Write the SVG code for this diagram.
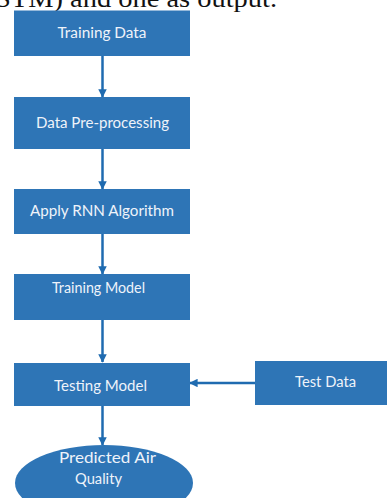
<svg xmlns="http://www.w3.org/2000/svg" width="388" height="498" viewBox="0 0 388 498">
  <defs>
    <style>
      .box { fill: #2e75b6; }
      .lbl { fill: #eef3fa; font-family: Lato, "Open Sans", "Liberation Sans", sans-serif; font-size: 14.5px; text-anchor: middle; }
      .edge { stroke: #1f6bb0; stroke-width: 2.5; fill: none; marker-end: url(#head); }
      .para { fill: #111; font-family: "Liberation Serif", serif; font-size: 26px; }
    </style>
    <marker id="head" viewBox="0 0 10 10" refX="9" refY="5" markerWidth="3.4" markerHeight="3.4" orient="auto" markerUnits="strokeWidth">
      <path d="M0,0 L10,5 L0,10 z" fill="#1f6bb0"/>
    </marker>
  </defs>

  <rect width="388" height="498" fill="#ffffff"/>

  <!-- tail of the preceding paragraph line -->
  <text class="para" x="-5" y="7" textLength="282" lengthAdjust="spacingAndGlyphs">STM) and one as output.</text>

  <g id="connectors">
    <line class="edge" x1="102.5" y1="56" x2="102.5" y2="97"/>
    <line class="edge" x1="102.5" y1="149" x2="102.5" y2="189"/>
    <line class="edge" x1="102.5" y1="234" x2="102.5" y2="274"/>
    <line class="edge" x1="102.5" y1="320" x2="102.5" y2="362"/>
    <line class="edge" x1="102.5" y1="406" x2="102.5" y2="445"/>
    <line class="edge" x1="267" y1="383" x2="190" y2="383"/>
  </g>

  <g id="training-data">
    <rect class="box" x="14" y="10.5" width="176" height="45.5"/>
    <text class="lbl" x="102" y="37.5" textLength="89" lengthAdjust="spacingAndGlyphs">Training Data</text>
  </g>

  <g id="pre-processing">
    <rect class="box" x="14" y="97" width="176" height="52"/>
    <text class="lbl" x="102.5" y="128.3" textLength="133" lengthAdjust="spacingAndGlyphs">Data Pre-processing</text>
  </g>

  <g id="apply-rnn">
    <rect class="box" x="14" y="189" width="176" height="45"/>
    <text class="lbl" x="102" y="216" textLength="144" lengthAdjust="spacingAndGlyphs">Apply RNN Algorithm</text>
  </g>

  <g id="training-model">
    <rect class="box" x="14" y="274" width="176" height="46"/>
    <text class="lbl" x="98.5" y="293.3" textLength="93" lengthAdjust="spacingAndGlyphs">Training Model</text>
  </g>

  <g id="testing-model">
    <rect class="box" x="14" y="363" width="176" height="43"/>
    <text class="lbl" x="100.5" y="390.7" textLength="93" lengthAdjust="spacingAndGlyphs">Testing Model</text>
  </g>

  <g id="test-data">
    <rect class="box" x="255" y="361" width="132" height="44"/>
    <text class="lbl" x="325.5" y="387" textLength="61" lengthAdjust="spacingAndGlyphs">Test Data</text>
  </g>

  <g id="predicted-air-quality">
    <ellipse class="box" cx="104" cy="483" rx="89" ry="38"/>
    <text class="lbl" x="107.5" y="463" textLength="97" lengthAdjust="spacingAndGlyphs">Predicted Air</text>
    <text class="lbl" x="98.5" y="484" textLength="47" lengthAdjust="spacingAndGlyphs">Quality</text>
  </g>
</svg>
